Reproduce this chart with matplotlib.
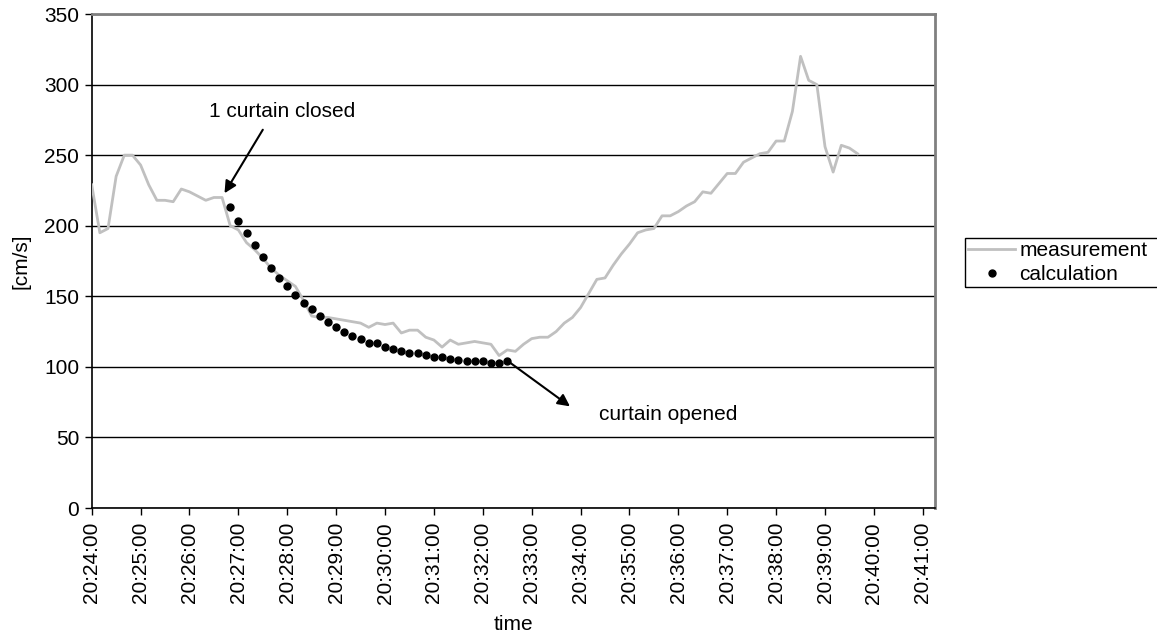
import numpy as np
import pandas as pd
import matplotlib
matplotlib.use("Agg")
import matplotlib.pyplot as plt
import matplotlib.dates as mdates
from matplotlib.patches import Rectangle

plt.rcParams['font.family'] = ['Liberation Sans', 'DejaVu Sans']

# measured velocity, one value every 10 s from 20:24:00
meas_start = '2000-01-01 20:24:00'
measurement = [
    229, 195, 198, 235, 250, 250, 243, 229, 218, 218, 217, 226, 224, 221, 218, 220, 220,
    200, 197, 188, 183, 177, 170, 165, 161, 157, 147, 136, 135, 135, 134, 133, 132, 131,
    128, 131, 130, 131, 124, 126, 126, 121, 119, 114, 119, 116, 117, 118, 117, 116, 108,
    112, 111, 116, 120, 121, 121, 125, 131, 135, 142, 152, 162, 163, 172, 180, 187, 195,
    197, 198, 207, 207, 210, 214, 217, 224, 223, 230, 237, 237, 245, 248, 251, 252, 260,
    260, 281, 320, 303, 300, 256, 238, 257, 255, 251,
]

# calculated velocity, every 10 s from 20:26:50
calc_start = '2000-01-01 20:26:50'
calculation = [
    213, 203, 195, 186, 178, 170, 163, 157, 151, 145, 141, 136, 132, 128, 125, 122, 120,
    117, 117, 114, 112.5, 111, 110, 110, 108.5, 107, 107, 105.5, 105, 104, 104, 104,
    103, 103, 104,
]

y_ticks = [0, 50, 100, 150, 200, 250, 300, 350]

t_meas = pd.date_range(meas_start, periods=len(measurement), freq='10s')
t_calc = pd.date_range(calc_start, periods=len(calculation), freq='10s')
x_ticks = pd.date_range('2000-01-01 20:24:00', '2000-01-01 20:41:00', freq='1min')


def tnum(s):
    return mdates.date2num(pd.Timestamp('2000-01-01 ' + s))


fig = plt.figure(figsize=(11.57, 6.42), dpi=100)
ax = fig.add_axes([91.7 / 1157, 1 - 508 / 642, (935 - 91.7) / 1157, (508 - 14) / 642])

ax.plot(t_meas, measurement, color='#c0c0c0', lw=2.0, label='measurement', zorder=3)
ax.plot(t_calc, calculation, 'o', color='black', ms=5, label='calculation', zorder=4)

ax.set_ylim(0, 350)
ax.set_yticks(y_ticks)
ax.set_xlim(tnum('20:24:00'), tnum('20:41:15'))
ax.set_xticks(x_ticks)
ax.xaxis.set_major_formatter(mdates.DateFormatter('%H:%M:%S'))
ax.tick_params(axis='x', labelrotation=90, labelsize=15, length=5, width=1, direction='out', pad=5)
ax.tick_params(axis='y', labelsize=15, length=5, width=1, direction='out', pad=4)

ax.yaxis.grid(True, color='black', lw=1.0)
ax.set_axisbelow(True)
for side in ['left', 'bottom']:
    ax.spines[side].set_color('black')
    ax.spines[side].set_linewidth(1.2)
for side in ['top', 'right']:
    ax.spines[side].set_color('#808080')
    ax.spines[side].set_linewidth(2.0)

ax.set_xlabel('time', fontsize=15, labelpad=8)
ax.set_ylabel('[cm/s]', fontsize=15, labelpad=10)

ax.annotate('', xy=(tnum('20:26:43'), 223), xytext=(tnum('20:27:30'), 268),
            arrowprops=dict(arrowstyle='-|>', color='black', lw=1.5, mutation_scale=18,
                            shrinkA=0, shrinkB=0))
ax.text(tnum('20:26:24'), 281, '1 curtain closed', fontsize=15, va='center', ha='left')

ax.annotate('', xy=(tnum('20:33:47'), 72), xytext=(tnum('20:32:31'), 104),
            arrowprops=dict(arrowstyle='-|>', color='black', lw=1.5, mutation_scale=18,
                            shrinkA=0, shrinkB=0))
ax.text(tnum('20:34:23'), 66.5, 'curtain opened', fontsize=15, va='center', ha='left')

leg = fig.legend(loc='upper left', bbox_to_anchor=(965 / 1157, 1 - 238 / 642), fontsize=15,
                 frameon=False, borderpad=0.15, labelspacing=0.25, handlelength=2.25,
                 handletextpad=0.2, borderaxespad=0)

# legend box runs off the right edge of the picture, as in the original
fig.canvas.draw()
bb = leg.get_window_extent()
fig.add_artist(Rectangle((bb.x0, bb.y0), fig.bbox.width - bb.x0 + 10, bb.height,
                         transform=None, facecolor='none', edgecolor='black', lw=1.0))

fig.savefig('out.png', dpi=100)
